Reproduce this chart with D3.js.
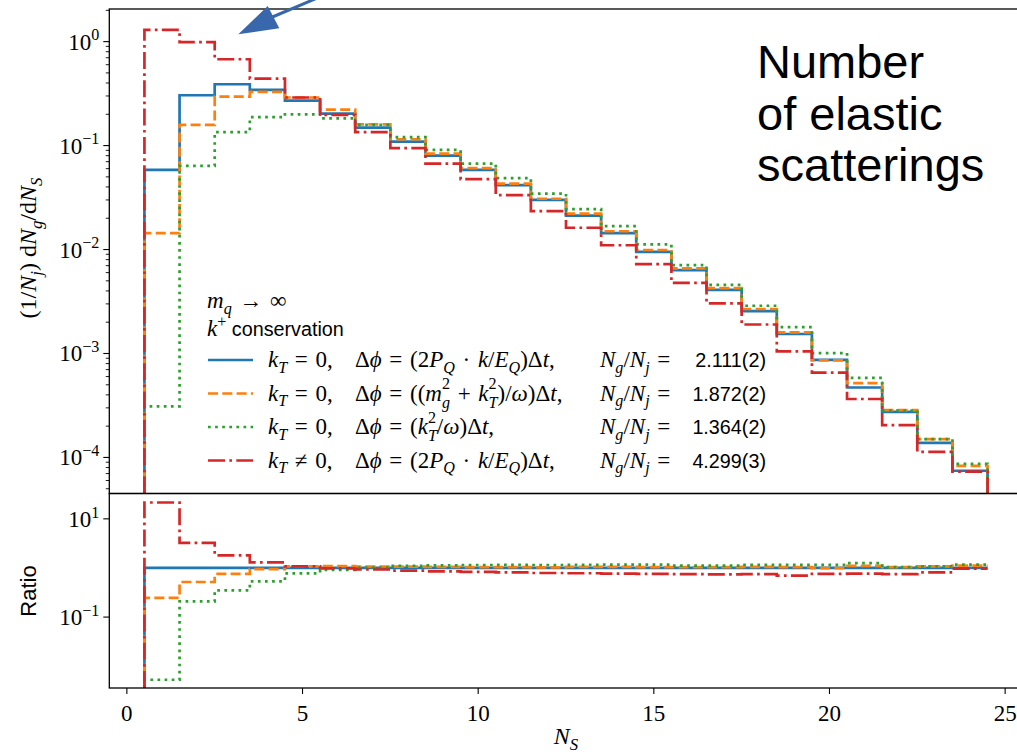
<!DOCTYPE html>
<html><head><meta charset="utf-8">
<script src="https://cdn.jsdelivr.net/npm/d3@7"></script>
<style>body{margin:0;background:#fff} svg{display:block} text{white-space:pre}</style>
</head><body>
<svg id="c" width="1017" height="754"></svg>
<script>
// ---- data (bin centres N_S = 1..24) ----
const bins = d3.range(1, 25);
const blueVals  = [0.0584,0.305,0.389,0.343,0.271,0.203,0.149,0.109,0.080,0.0584,0.0416,0.0301,0.0212,0.01438,0.0095,0.00634,0.00409,0.00256,0.00154,8.7e-4,4.71e-4,2.75e-4,1.38e-4,7.45e-5];
const orangeVals= [0.0144,0.158,0.296,0.328,0.29,0.222,0.160,0.115,0.0838,0.0606,0.0431,0.0308,0.0222,0.0150,0.0099,0.0066,0.00425,0.00268,0.0016,8.6e-4,5.19e-4,2.85e-4,1.5e-4,8.3e-5];
const greenVals = [3.1e-4,0.0638,0.135,0.1875,0.2,0.183,0.158,0.1205,0.091,0.0671,0.0486,0.0345,0.0245,0.0168,0.0112,0.00708,0.00457,0.00288,0.00179,1.01e-3,5.84e-4,2.83e-4,1.5e-4,8.7e-5];
const redVals   = [1.30,0.99,0.677,0.44,0.29,0.197,0.1345,0.0944,0.0671,0.0475,0.0334,0.0234,0.0162,0.0110,0.00724,0.00478,0.00303,0.0019,0.00105,6.56e-4,3.65e-4,2.05e-4,1.13e-4,7.3e-5];
const blueRatio  = [1,1,1,1,1,1,1,1,1,1,1,1,1,1,1,1,1,1,1,1,1,1,1,1];
const orangeRatio= [0.247,0.518,0.755,0.95,1.08,1.09,1.07,1.06,1.05,1.04,1.04,1.03,1.05,1.05,1.04,1.04,1.04,1.05,1.04,0.99,1.10,1.04,1.08,1.12];
const greenRatio = [0.0053,0.209,0.349,0.534,0.778,0.91,1.02,1.11,1.13,1.15,1.16,1.15,1.16,1.17,1.17,1.12,1.12,1.16,1.16,1.16,1.26,1.04,1.08,1.17];
const redRatio   = [21.5,3.24,1.81,1.30,1.08,0.98,0.93,0.88,0.855,0.83,0.81,0.79,0.78,0.77,0.76,0.75,0.74,0.75,0.70,0.76,0.77,0.75,0.81,0.97];
const xTicks = [0,5,10,15,20,25];
const topYTicks = [1,1e-1,1e-2,1e-3,1e-4];
const topYTickExp = ['0','−1','−2','−3','−4'];
const botYTicks = [10,0.1];
const botYTickExp = ['1','−1'];
const seriesNames = ['blue','orange','green','red'];
const legendRatios = ['2.111(2)','1.872(2)','1.364(2)','4.299(3)'];

// ---- layout ----
const svg = d3.select('#c');
const L = 109.3, R = 1022.7, T1 = 9, B1 = 493.5, B2 = 688;
const x = d3.scaleLinear().domain([-0.5, 25.5]).range([L, R]);
const yTop = d3.scaleLog().domain([4.5e-5, 2.06]).range([B1, T1]);
const yBot = d3.scaleLog().domain([0.0036, 32.8]).range([B2, B1]);

const styles = {
  blue:   {c:'#1f77b4', dash:null},
  orange: {c:'#ff7f0e', dash:'10,4.3'},
  green:  {c:'#2ca02c', dash:'2.7,4.4'},
  red:    {c:'#d62728', dash:'17,4.3,2.7,4.3'}
};
const topData = {blue:blueVals, orange:orangeVals, green:greenVals, red:redVals};
const botData = {blue:blueRatio, orange:orangeRatio, green:greenRatio, red:redRatio};

const defs = svg.append('defs');
defs.append('clipPath').attr('id','cTop').append('rect').attr('x',L).attr('y',T1).attr('width',R-L).attr('height',B1-T1);
defs.append('clipPath').attr('id','cBot').append('rect').attr('x',L).attr('y',B1).attr('width',R-L).attr('height',B2-B1);

function stepPts(vals, floor, dropEnd) {
  const pts = [[bins[0]-0.5, floor]];
  vals.forEach((v,i) => { pts.push([bins[i]-0.5, v]); pts.push([bins[i]+0.5, v]); });
  if (dropEnd) pts.push([bins[bins.length-1]+0.5, floor]);
  return pts;
}

const gTop = svg.append('g').attr('clip-path','url(#cTop)');
const gBot = svg.append('g').attr('clip-path','url(#cBot)');
seriesNames.forEach(n => {
  const st = styles[n];
  const lt = d3.line().x(d=>x(d[0])).y(d=>yTop(d[1]));
  gTop.append('path').attr('d', lt(stepPts(topData[n], yTop.domain()[0], true)))
    .attr('fill','none').attr('stroke',st.c).attr('stroke-width',2.7)
    .attr('stroke-dasharray',st.dash);
  const lb = d3.line().x(d=>x(d[0])).y(d=>yBot(d[1]));
  gBot.append('path').attr('d', lb(stepPts(botData[n], yBot.domain()[0], false)))
    .attr('fill','none').attr('stroke',st.c).attr('stroke-width',2.7)
    .attr('stroke-dasharray',st.dash);
});

// ---- math text helper ----
const SERIF = "'Liberation Serif', serif", SANS = "'Liberation Sans', sans-serif";
function mtext(parent, px, py, segs, size, anchor) {
  const t = parent.append('text').attr('x',px).attr('y',py).attr('font-size',size).attr('fill','#000');
  if (anchor) t.attr('text-anchor', anchor);
  let cur = 0;
  segs.forEach(s => {
    const [str, type, pos=0, dx=0] = s;
    // pos: 1 sup, -1 sub, 2 stacked sup, -2 stacked sub
    const off = pos===1 ? -0.4*size : pos===-1 ? 0.24*size : pos===2 ? -0.5*size : pos===-2 ? 0.32*size : 0;
    const ts = t.append('tspan').text(str).attr('dy', off - cur)
      .attr('font-family', type==='s' ? SANS : SERIF)
      .attr('font-style', type==='i' ? 'italic' : 'normal')
      .attr('font-size', type==='s' ? size*0.86 : (pos ? size*0.7 : size));
    if (dx) ts.attr('dx', dx);
    cur = off;
  });
  return t;
}

// ---- axes frames ----
const ax = svg.append('g').attr('stroke','#000').attr('stroke-width',1.3).attr('fill','none');
ax.append('rect').attr('x',L).attr('y',T1).attr('width',R-L).attr('height',B1-T1);
ax.append('rect').attr('x',L).attr('y',B1).attr('width',R-L).attr('height',B2-B1);

// ticks
const tk = svg.append('g').attr('stroke','#000');
const [lo, hi] = yTop.domain();
for (let e = -5; e <= 0; e++) {
  for (let k = 2; k <= 9; k++) {
    const v = k*Math.pow(10,e);
    if (v < lo || v > hi) continue;
    tk.append('line').attr('x1',L).attr('x2',L-3.5).attr('y1',yTop(v)).attr('y2',yTop(v)).attr('stroke-width',0.9);
  }
}
topYTicks.forEach((v,i) => {
  tk.append('line').attr('x1',L).attr('x2',L-6).attr('y1',yTop(v)).attr('y2',yTop(v)).attr('stroke-width',1.1);
  mtext(svg, L-10, yTop(v)+8, [['10','r'],[topYTickExp[i],'r',1]], 23, 'end');
});
botYTicks.forEach((v,i) => {
  tk.append('line').attr('x1',L).attr('x2',L-6).attr('y1',yBot(v)).attr('y2',yBot(v)).attr('stroke-width',1.1);
  mtext(svg, L-10, yBot(v)+8, [['10','r'],[botYTickExp[i],'r',1]], 23, 'end');
});
xTicks.forEach(v => {
  tk.append('line').attr('x1',x(v)).attr('x2',x(v)).attr('y1',B2).attr('y2',B2+6).attr('stroke-width',1.1);
  mtext(svg, x(v), B2+33, [[String(v),'r']], 23, 'middle');
});

// axis labels
mtext(svg, x(12.5), 744, [['N','i'],['S','i',-1]], 24, 'middle');
mtext(svg.append('g').attr('transform','translate(36,248) rotate(-90)'), 0, 0,
  [['(1/','r'],['N','i'],['j','i',-1],[') d','r'],['N','i'],['g','i',-1],['/d','r'],['N','i'],['S','i',-1]], 24, 'middle');
svg.append('text').attr('transform','translate(36,591) rotate(-90)').attr('text-anchor','middle')
  .attr('font-family',SANS).attr('font-size',22).text('Ratio');

// ---- legend ----
const FS = 23;
const S = '\u2004';
const lg = svg.append('g');
mtext(lg, 207, 308, [['m','i'],['q','i',-1],[S+'→'+S+'∞','r']], FS);
mtext(lg, 207, 336, [['k','i'],['+','r',1],[' conservation','s']], FS);
const rowsY = [360, 393.5, 427, 460.5];
const sw = -0.35*FS;   // stack subscript under superscript
const EQ = S+'='+S, NE = S+'≠'+S, DOT = S+'·'+S, PL = S+'+'+S;
const col1 = [
  [['k','i'],['T','i',-1],[EQ+'0,','r']],
  [['k','i'],['T','i',-1],[EQ+'0,','r']],
  [['k','i'],['T','i',-1],[EQ+'0,','r']],
  [['k','i'],['T','i',-1],[NE+'0,','r']]
];
const col2 = [
  [['Δ','r'],['ϕ','i'],[EQ+'(2','r'],['P','i'],['Q','i',-1],[DOT,'r'],['k','i'],['/','r'],['E','i'],['Q','i',-1],[')Δ','r'],['t','i'],[',','r']],
  [['Δ','r'],['ϕ','i'],[EQ+'((','r'],['m','i'],['2','r',2],['g','i',-2,sw],[PL,'r'],['k','i'],['2','r',2],['T','i',-2,sw],[')/','r'],['ω','i'],[')Δ','r'],['t','i'],[',','r']],
  [['Δ','r'],['ϕ','i'],[EQ+'(','r'],['k','i'],['2','r',2],['T','i',-2,sw],['/','r'],['ω','i'],[')Δ','r'],['t','i'],[',','r']],
  [['Δ','r'],['ϕ','i'],[EQ+'(2','r'],['P','i'],['Q','i',-1],[DOT,'r'],['k','i'],['/','r'],['E','i'],['Q','i',-1],[')Δ','r'],['t','i'],[',','r']]
];
seriesNames.forEach((n,i) => {
  const st = styles[n], yy = rowsY[i];
  lg.append('line').attr('x1',208).attr('x2',253).attr('y1',yy).attr('y2',yy)
    .attr('stroke',st.c).attr('stroke-width',2.7).attr('stroke-dasharray',st.dash);
  mtext(lg, 268, yy+7, col1[i], FS);
  mtext(lg, 355, yy+7, col2[i], FS);
  mtext(lg, 600, yy+7, [['N','i'],['g','i',-1],['/','r'],['N','i'],['j','i',-1],[EQ,'r']], FS);
  mtext(lg, 766, yy+7, [[legendRatios[i],'s']], FS, 'end');
});

// ---- annotation ----
const ann = svg.append('g').attr('font-family',SANS).attr('font-size',47).attr('fill','#000');
['Number','of elastic','scatterings'].forEach((s,i) => ann.append('text').attr('x',757).attr('y',78+i*51.5).text(s));
svg.append('line').attr('x1',270).attr('y1',18).attr('x2',322).attr('y2',-4)
  .attr('stroke','#3867ab').attr('stroke-width',3);
svg.append('polygon').attr('points','238.3,34.3 267.7,6 279.3,28.3').attr('fill','#3867ab');
</script>
</body></html>
